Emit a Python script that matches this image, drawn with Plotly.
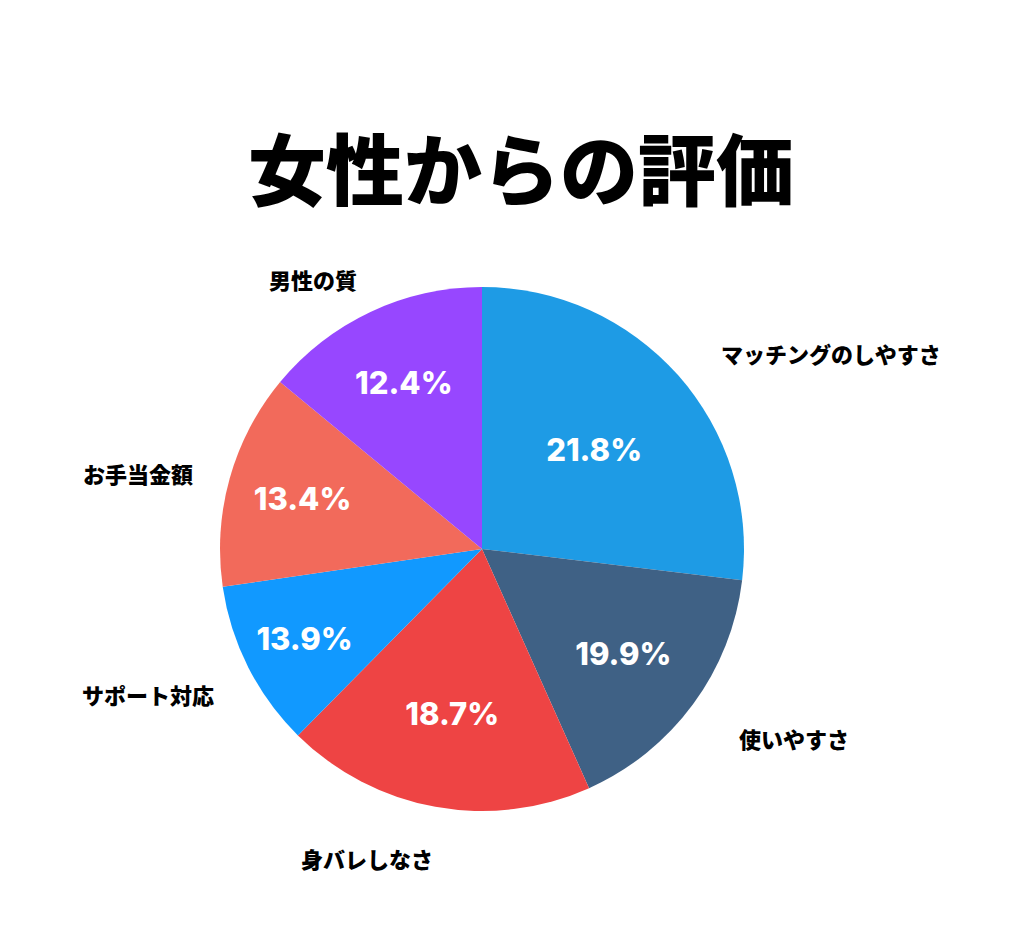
import math
import plotly.graph_objects as go

labels = ["マッチングのしやすさ", "使いやすさ", "身バレしなさ", "サポート対応", "お手当金額", "男性の質"]
# slice sizes as drawn in the reference (angles / 3.6)
values = [26.9, 16.4, 19.1, 10.3, 13.3, 14.0]
# percentages printed on the slices
pct_text = ["21.8%", "19.9%", "18.7%", "13.9%", "13.4%", "12.4%"]
colors = ["#1E9BE5", "#3F6185", "#EE4444", "#1199FF", "#F26A5B", "#9747FF"]

W, H = 1025, 932
cx, cy, R = 474, 541, 262

fig = go.Figure(go.Pie(
    labels=labels, values=values, text=pct_text, sort=False, direction="clockwise", rotation=0,
    marker=dict(colors=colors, line=dict(width=0)),
    texttemplate="%{text}", textposition="inside", insidetextorientation="horizontal",
    textfont=dict(family="Inter", size=31, color="white", weight=800),
    showlegend=False, hoverinfo="label+text",
    domain=dict(x=[(cx - R) / W, (cx + R) / W], y=[1 - (cy + R) / H, 1 - (cy - R) / H]),
))

total = sum(values)
cum = 0
anns = []
for lab, v in zip(labels, values):
    mid = (cum + v / 2) / total * 2 * math.pi
    cum += v
    r = R * 1.17
    x = 482 + r * math.sin(mid)
    y = 548 - r * math.cos(mid)
    anchor = "left" if math.sin(mid) > 0.05 else ("right" if math.sin(mid) < -0.05 else "center")
    anns.append(dict(x=x / W, y=1 - y / H, xref="paper", yref="paper", text=lab, showarrow=False,
                     xanchor=anchor, yanchor="middle",
                     font=dict(family="Noto Sans CJK JP", size=22, color="black", weight=900)))
anns.append(dict(x=0.5, y=1 - 158 / H, xref="paper", yref="paper", text="女性からの評価", showarrow=False,
                 xanchor="center", yanchor="middle",
                 font=dict(family="Noto Sans CJK JP", size=78, color="black", weight=900)))

fig.update_layout(width=W, height=H, margin=dict(l=0, r=0, t=0, b=0),
                  paper_bgcolor="white", annotations=anns)
fig.write_html("out.html")
